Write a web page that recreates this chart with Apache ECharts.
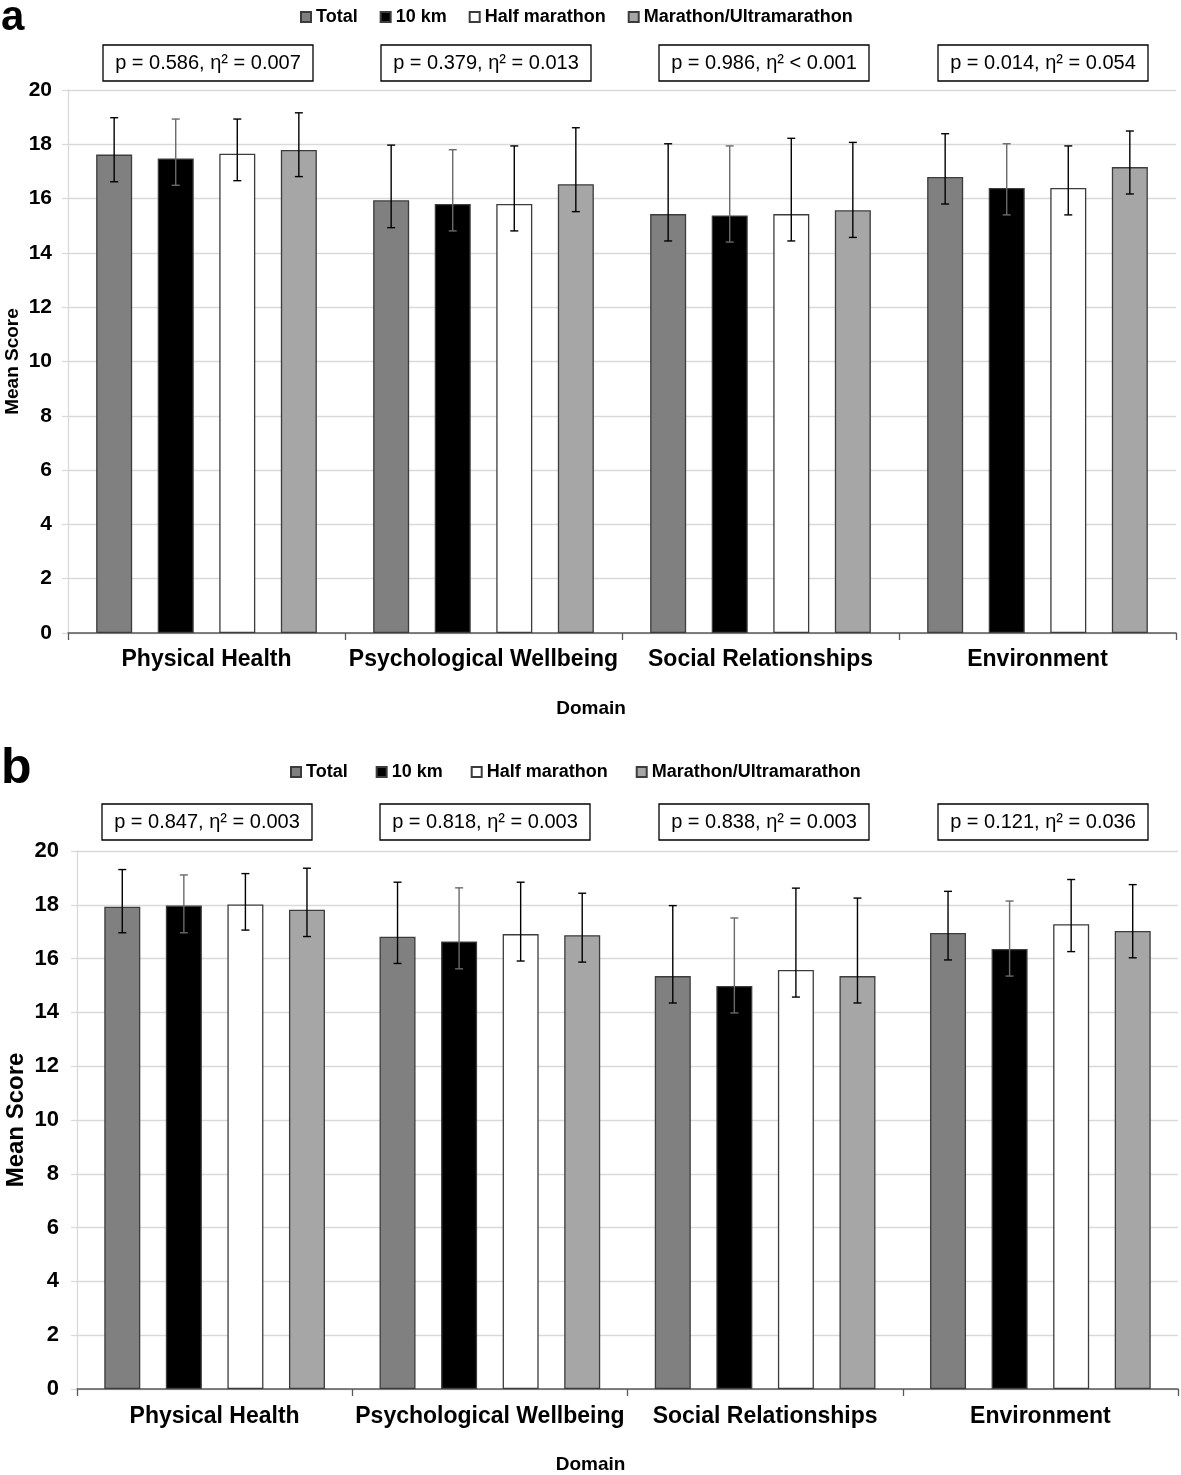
<!DOCTYPE html>
<html>
<head>
<meta charset="utf-8">
<script src="https://cdn.jsdelivr.net/npm/echarts@6/dist/echarts.min.js"></script>
<style>
html,body{margin:0;padding:0;background:#fff;}
#a{position:absolute;left:0;top:0;width:1181px;height:737px;}
#b{position:absolute;left:0;top:737px;width:1181px;height:738px;}
</style>
</head>
<body>
<div id="a"></div>
<div id="b"></div>
<script>
// ---------- data ----------
const categories = ['Physical Health', 'Psychological Wellbeing', 'Social Relationships', 'Environment'];
const groups = ['Total', '10 km', 'Half marathon', 'Marathon/Ultramarathon'];
const yMin = 0, yMax = 20, yStep = 2;

// Panel a: means and error bar ends (low, high)
const aTotal = [17.62, 15.94, 15.43, 16.80];
const aTotalLow = [16.62, 14.93, 14.44, 15.80];
const aTotalHigh = [18.98, 17.97, 18.02, 18.39];
const a10km = [17.48, 15.80, 15.38, 16.39];
const a10kmLow = [16.49, 14.81, 14.40, 15.40];
const a10kmHigh = [18.93, 17.80, 17.94, 18.02];
const aHalf = [17.65, 15.80, 15.43, 16.39];
const aHalfLow = [16.66, 14.81, 14.44, 15.40];
const aHalfHigh = [18.93, 17.94, 18.22, 17.94];
const aMara = [17.79, 16.53, 15.57, 17.16];
const aMaraLow = [16.81, 15.52, 14.57, 16.17];
const aMaraHigh = [19.16, 18.61, 18.07, 18.49];
const aStats = ['p = 0.586, η² = 0.007', 'p = 0.379, η² = 0.013', 'p = 0.986, η² < 0.001', 'p = 0.014, η² = 0.054'];

// Panel b
const bTotal = [17.93, 16.81, 15.35, 16.95];
const bTotalLow = [16.96, 15.82, 14.35, 15.95];
const bTotalHigh = [19.31, 18.84, 17.97, 18.50];
const b10km = [17.97, 16.64, 14.98, 16.36];
const b10kmLow = [16.96, 15.62, 13.98, 15.35];
const b10kmHigh = [19.11, 18.63, 17.51, 18.14];
const bHalf = [18.01, 16.91, 15.58, 17.28];
const bHalfLow = [17.06, 15.91, 14.57, 16.26];
const bHalfHigh = [19.16, 18.84, 18.62, 18.94];
const bMara = [17.82, 16.87, 15.35, 17.03];
const bMaraLow = [16.82, 15.87, 14.35, 16.03];
const bMaraHigh = [19.36, 18.43, 18.25, 18.75];
const bStats = ['p = 0.847, η² = 0.003', 'p = 0.818, η² = 0.003', 'p = 0.838, η² = 0.003', 'p = 0.121, η² = 0.036'];

// ---------- styling ----------
const FONT = '"Liberation Sans", Arial, sans-serif';
const fills = ['#808080', '#000000', '#ffffff', '#a6a6a6'];
const errColors = ['#000000', '#6a6a6a', '#000000', '#000000'];
const BAR_W = 36;
const BAR_GAP = 0.71;
const PITCH = BAR_W * (1 + BAR_GAP);

function makeOption(cfg) {
  const series = cfg.values.map((vals, i) => ({
    name: groups[i],
    type: 'bar',
    data: vals,
    barWidth: BAR_W,
    barGap: (BAR_GAP * 100) + '%',
    itemStyle: { color: fills[i], borderColor: '#3c3c3c', borderWidth: 1.3 },
    emphasis: { disabled: true },
    animation: false
  }));
  const errData = [];
  cfg.lows.forEach((lowArr, s) => {
    lowArr.forEach((lo, c) => errData.push([c, s, lo, cfg.highs[s][c]]));
  });
  series.push({
    type: 'custom',
    name: 'err',
    data: errData,
    encode: { x: 0, y: [2, 3] },
    z: 10,
    silent: true,
    animation: false,
    renderItem: function (params, api) {
      const c = api.value(0), s = api.value(1);
      const pLo = api.coord([c, api.value(2)]);
      const pHi = api.coord([c, api.value(3)]);
      const x = pLo[0] + (s - 1.5) * PITCH;
      const st = { stroke: errColors[s], lineWidth: 1.4 };
      const cap = 4;
      return {
        type: 'group',
        children: [
          { type: 'line', shape: { x1: x, y1: pLo[1], x2: x, y2: pHi[1] }, style: st },
          { type: 'line', shape: { x1: x - cap, y1: pHi[1], x2: x + cap, y2: pHi[1] }, style: st },
          { type: 'line', shape: { x1: x - cap, y1: pLo[1], x2: x + cap, y2: pLo[1] }, style: st }
        ]
      };
    }
  });

  const graphic = [];
  cfg.stats.forEach((t, i) => {
    graphic.push({
      type: 'group',
      x: cfg.boxLeft[i],
      y: cfg.boxTop,
      children: [
        { type: 'rect', shape: { x: 0, y: 0, width: 210, height: 36 },
          style: { fill: '#fff', stroke: '#000', lineWidth: 1.3 } },
        { type: 'text', x: 105, y: 18,
          style: { text: t, fontSize: 20, fontFamily: FONT, fill: '#000', align: 'center', verticalAlign: 'middle' } }
      ]
    });
  });
  graphic.push({
    type: 'text', x: 1, y: cfg.letterY,
    style: { text: cfg.letter, fontSize: cfg.letterSize, fontWeight: 'bold', fontFamily: FONT, fill: '#000', verticalAlign: 'top' }
  });

  return {
    animation: false,
    backgroundColor: '#fff',
    textStyle: { fontFamily: FONT },
    legend: {
      data: groups,
      left: cfg.legendLeft,
      top: cfg.legendTop,
      padding: 0,
      itemWidth: 10,
      itemHeight: 10,
      itemGap: cfg.legendGap,
      icon: 'rect',
      selectedMode: false,
      textStyle: { fontSize: 18, fontWeight: 'bold', color: '#000', fontFamily: FONT }
    },
    grid: { left: cfg.gridLeft, right: cfg.gridRight, top: cfg.gridTop, height: cfg.gridHeight,
            containLabel: false, outerBoundsMode: 'none' },
    xAxis: {
      type: 'category',
      data: categories,
      axisLine: { lineStyle: { color: '#595959', width: 1.5 } },
      axisTick: { show: true, interval: 0, length: 7, lineStyle: { color: '#595959', width: 1.3 } },
      axisLabel: { interval: 0, fontSize: 23, fontWeight: 'bold', color: '#000', margin: cfg.xLabelMargin, fontFamily: FONT },
      splitLine: { show: false },
      name: 'Domain',
      nameLocation: 'middle',
      nameGap: cfg.xNameGap,
      nameMoveOverlap: false,
      nameTextStyle: { fontSize: 19, fontWeight: 'bold', color: '#000', fontFamily: FONT, padding: [0, cfg.xNameShift, 0, 0] }
    },
    yAxis: {
      type: 'value',
      min: yMin, max: yMax, interval: yStep,
      axisLine: { show: true, lineStyle: { color: '#d9d9d9', width: 1.3 } },
      axisTick: { show: true, length: 6, lineStyle: { color: '#d9d9d9', width: 1.3 } },
      splitLine: { show: true, lineStyle: { color: '#d9d9d9', width: 1.3 } },
      axisLabel: { fontSize: cfg.yLabelSize, fontWeight: 'bold', color: '#000', margin: cfg.yLabelMargin, fontFamily: FONT },
      name: 'Mean Score',
      nameLocation: 'middle',
      nameRotate: 90,
      nameGap: cfg.yNameGap,
      nameMoveOverlap: false,
      nameTextStyle: { fontSize: cfg.yNameSize, fontWeight: 'bold', color: '#000', fontFamily: FONT }
    },
    series: series,
    graphic: graphic
  };
}

const chartA = echarts.init(document.getElementById('a'), null, { renderer: 'canvas' });
chartA.setOption(makeOption({
  values: [aTotal, a10km, aHalf, aMara],
  lows: [aTotalLow, a10kmLow, aHalfLow, aMaraLow],
  highs: [aTotalHigh, a10kmHigh, aHalfHigh, aMaraHigh],
  stats: aStats,
  boxLeft: [103, 381, 659, 938], boxTop: 45,
  letter: 'a', letterSize: 42, letterY: -3,
  legendLeft: 300, legendTop: 8, legendGap: 22,
  gridLeft: 68, gridRight: 5, gridTop: 90, gridHeight: 543,
  xLabelMargin: 15, xNameGap: 66, xNameShift: 62,
  yLabelSize: 21, yLabelMargin: 16, yNameGap: 46, yNameSize: 19
}));

const chartB = echarts.init(document.getElementById('b'), null, { renderer: 'canvas' });
chartB.setOption(makeOption({
  values: [bTotal, b10km, bHalf, bMara],
  lows: [bTotalLow, b10kmLow, bHalfLow, bMaraLow],
  highs: [bTotalHigh, b10kmHigh, bHalfHigh, bMaraHigh],
  stats: bStats,
  boxLeft: [102, 380, 659, 938], boxTop: 67,
  letter: 'b', letterSize: 50, letterY: 7,
  legendLeft: 290, legendTop: 26, legendGap: 28,
  gridLeft: 77, gridRight: 3, gridTop: 114, gridHeight: 538,
  xLabelMargin: 16, xNameGap: 66, xNameShift: 74,
  yLabelSize: 22, yLabelMargin: 18, yNameGap: 49, yNameSize: 24
}));
</script>
</body>
</html>
